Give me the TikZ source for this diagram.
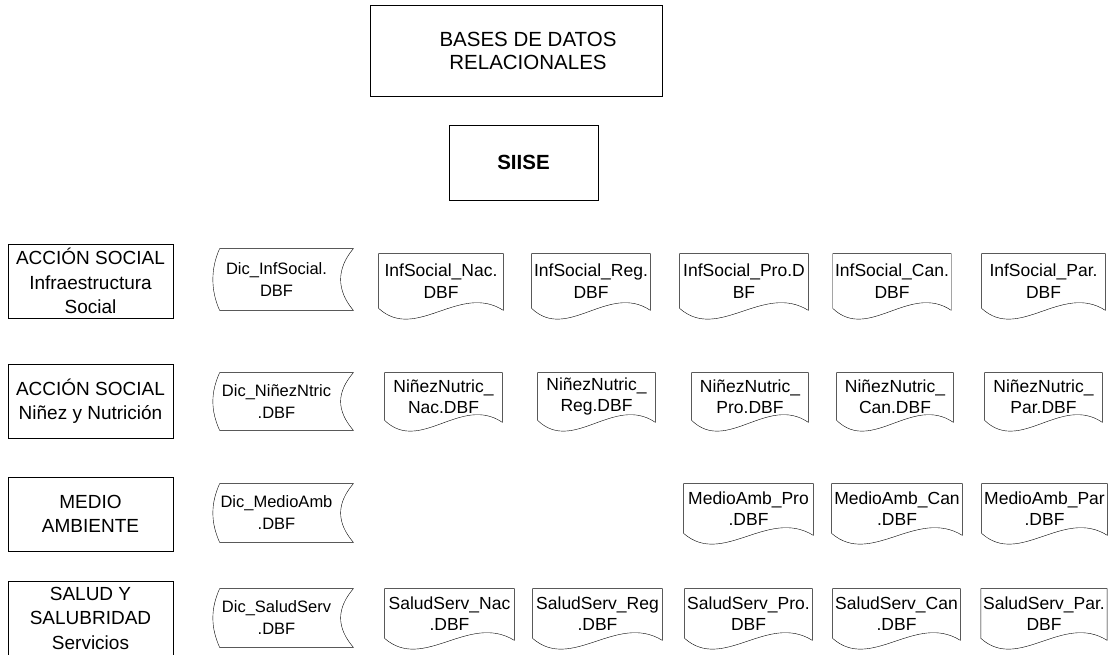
\documentclass[tikz,border=0pt]{standalone}
\usepackage{fontspec}
\setmainfont{Liberation Sans}
\usetikzlibrary{calc}

\tikzset{
  tabla/.style={draw, line width=0.75pt, align=center, inner sep=2pt},
  titulo/.style={align=center, inner sep=2pt, font=\fontsize{20.5}{23}\selectfont},
  tema/.style={tabla, minimum width=165, minimum height=74, font=\fontsize{19}{24.5}\selectfont},
  % hoja con borde inferior ondulado
  docfile/.style={align=center, inner sep=2pt, line width=0.75pt,
    font=\fontsize{17.5}{21.5}\selectfont,
    append after command={
      (\tikzlastnode.north east) -- (\tikzlastnode.north west) -- (\tikzlastnode.south west)
      .. controls ($(\tikzlastnode.south west)!0.3!(\tikzlastnode.south east)+(0,34)$)
      and ($(\tikzlastnode.south west)!0.65!(\tikzlastnode.south east)+(0,-26)$)
      .. ($(\tikzlastnode.south east)+(0,2)$) -- cycle}},
  % diccionario (datos almacenados)
  dicfile/.style={align=center, inner sep=2pt, line width=0.75pt,
    minimum width=127, font=\fontsize{16.5}{22}\selectfont,
    append after command={
      ($(\tikzlastnode.north west)+(7,0)$) -- ($(\tikzlastnode.north east)+(13,0)$)
      .. controls +(-17,20) and +(-17,-20) .. ($(\tikzlastnode.south east)+(13,0)$)
      -- ($(\tikzlastnode.south west)+(7,0)$)
      .. controls +(-9,-20) and +(-9,20) .. cycle}},
}

\begin{document}
\begin{tikzpicture}[x=1pt, y=-1pt]
  \useasboundingbox (0,0) rectangle (1108,655);

  \draw (528,50.5) node[titulo] (bases) {BASES DE DATOS\\RELACIONALES};
  \draw[line width=0.75pt] ($(bases.center)+(-158,-45.5)$) rectangle +(292,91);
  \draw (523.5,162.5) node[tabla, minimum width=149, minimum height=75, font=\fontsize{20.5}{23}\selectfont\bfseries] (siise) {SIISE};

  % temas
  \draw
    (90.5,281) node[tema] (infsocial) {ACCIÓN SOCIAL\\Infraestructura\\Social}
    (90.5,401) node[tema] (ninez) {ACCIÓN SOCIAL\\Niñez y Nutrición}
    (90.5,514) node[tema] (medio) {MEDIO\\AMBIENTE}
    (90.5,618) node[tema] (salud) {SALUD Y\\SALUBRIDAD\\Servicios};

  % diccionarios
  \draw (276.5,279.5) node[dicfile, minimum height=61] (dic1) {Dic\_InfSocial.\\DBF};
  \draw (276.5,401.5) node[dicfile, minimum height=57] (dic2) {Dic\_NiñezNtric\\.DBF};
  \draw (276.5,513) node[dicfile, minimum height=58] (dic3) {Dic\_MedioAmb\\.DBF};
  \draw (276.5,618) node[dicfile, minimum height=58] (dic4) {Dic\_SaludServ\\.DBF};

  % infraestructura social
  \draw (441,281) node[docfile, minimum width=124, minimum height=54] (inf-nac) {InfSocial\_Nac.\\DBF};
  \draw (591,281) node[docfile, minimum width=118, minimum height=54] (inf-reg) {InfSocial\_Reg.\\DBF};
  \draw (744,281) node[docfile, minimum width=128, minimum height=54] (inf-pro) {InfSocial\_Pro.D\\BF};
  \draw (892,281) node[docfile, minimum width=116, minimum height=54] (inf-can) {InfSocial\_Can.\\DBF};
  \draw (1043.5,281) node[docfile, minimum width=123, minimum height=54] (inf-par) {InfSocial\_Par.\\DBF};

  % niñez y nutrición
  \draw (443.5,396.5) node[docfile, minimum width=117, minimum height=47] (nin-nac) {NiñezNutric\_\\Nac.DBF};
  \draw (596.5,396.5) node[docfile, minimum width=117, minimum height=47] (nin-reg) {NiñezNutric\_\\Reg.DBF};
  \draw (750,396.5) node[docfile, minimum width=116, minimum height=47] (nin-pro) {NiñezNutric\_\\Pro.DBF};
  \draw (895,396.5) node[docfile, minimum width=116, minimum height=47] (nin-can) {NiñezNutric\_\\Can.DBF};
  \draw (1043.5,396.5) node[docfile, minimum width=117, minimum height=47] (nin-par) {NiñezNutric\_\\Par.DBF};

  % medio ambiente
  \draw (748.5,508.5) node[docfile, minimum width=129, minimum height=49] (med-pro) {MedioAmb\_Pro\\.DBF};
  \draw (897,508.5) node[docfile, minimum width=130, minimum height=49] (med-can) {MedioAmb\_Can\\.DBF};
  \draw (1044.5,508.5) node[docfile, minimum width=125, minimum height=49] (med-par) {MedioAmb\_Par\\.DBF};

  % salud
  \draw (449.5,613.5) node[docfile, minimum width=129, minimum height=49] (sal-nac) {SaludServ\_Nac\\.DBF};
  \draw (597.5,613.5) node[docfile, minimum width=129, minimum height=49] (sal-reg) {SaludServ\_Reg\\.DBF};
  \draw (748.5,613.5) node[docfile, minimum width=127, minimum height=49] (sal-pro) {SaludServ\_Pro.\\DBF};
  \draw (896.5,613.5) node[docfile, minimum width=127, minimum height=49] (sal-can) {SaludServ\_Can\\.DBF};
  \draw (1044,613.5) node[docfile, minimum width=124, minimum height=49] (sal-par) {SaludServ\_Par.\\DBF};
\end{tikzpicture}
\end{document}
